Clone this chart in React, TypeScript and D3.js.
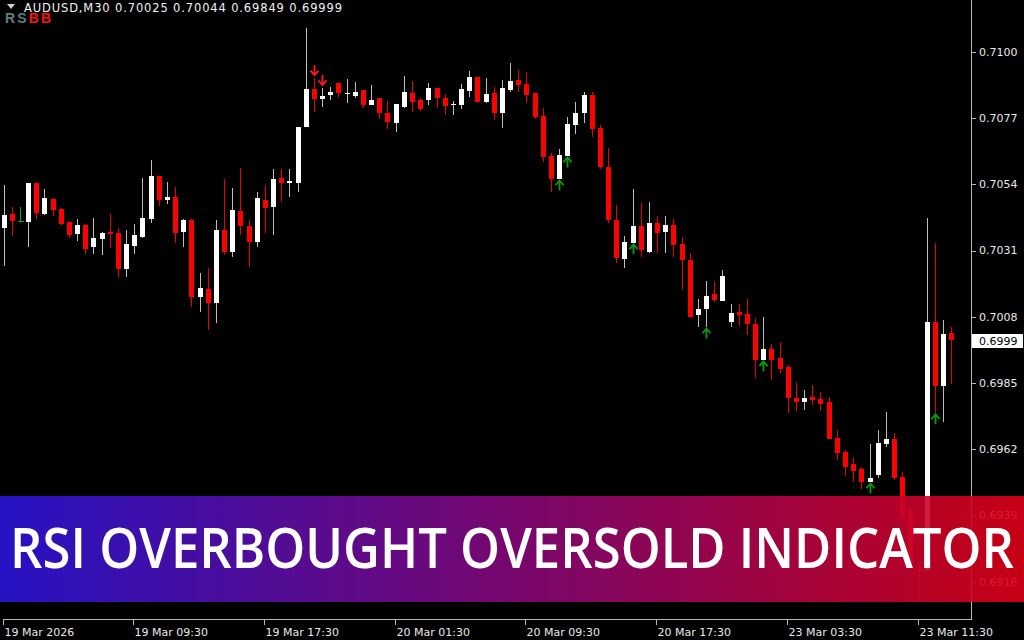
import * as d3 from 'd3'

// AUDUSD M30 (prices)
const opens = [
  0.70389, 0.70437, 0.70414, 0.7041, 0.70545, 0.70437, 0.70489, 0.70455, 0.7041, 0.70368,
  0.70399, 0.70323, 0.70352, 0.70375, 0.70371, 0.70247, 0.70326, 0.70358, 0.7042, 0.70569,
  0.70486, 0.70496, 0.70375, 0.70417, 0.70149, 0.70177, 0.70129, 0.70382, 0.70306, 0.70448,
  0.70396, 0.7034, 0.70486, 0.70462, 0.70562, 0.70545, 0.70545, 0.70739, 0.70871, 0.70837,
  0.7085, 0.70892, 0.70856, 0.70847, 0.70868, 0.70816, 0.7084, 0.70788, 0.70753, 0.70809,
  0.70857, 0.70833, 0.70833, 0.70875, 0.7084, 0.70818, 0.70816, 0.70864, 0.70913, 0.70826,
  0.70857, 0.70788, 0.70868, 0.70902, 0.70889, 0.70857, 0.70777, 0.70639, 0.70559, 0.70639,
  0.70746, 0.70788, 0.7085, 0.70736, 0.70601, 0.70417, 0.70281, 0.70337, 0.70396, 0.70306,
  0.70406, 0.70375, 0.70399, 0.70333, 0.70278, 0.70087, 0.70108, 0.7016, 0.70136, 0.70063,
  0.70097, 0.7009, 0.70056, 0.69931, 0.69969, 0.69938, 0.69907, 0.69798, 0.69785, 0.69802,
  0.69795, 0.69785, 0.6966, 0.69612, 0.6957, 0.69553, 0.69507, 0.69532, 0.69639, 0.69657,
  0.69525, 0.6941, 0.69205, 0.69201, 0.70063, 0.69841, 0.70025,
]
const highs = [
  0.70538, 0.70462, 0.70462, 0.70545, 0.70545, 0.70524, 0.70493, 0.70458, 0.70413, 0.7042,
  0.70403, 0.70423, 0.70375, 0.70437, 0.70389, 0.70382, 0.70403, 0.70562, 0.70625, 0.70569,
  0.70548, 0.70531, 0.7042, 0.7042, 0.70233, 0.7025, 0.70417, 0.70559, 0.70528, 0.70597,
  0.70417, 0.70514, 0.70538, 0.70594, 0.70594, 0.70594, 0.70739, 0.71083, 0.70909, 0.70875,
  0.70878, 0.70892, 0.70906, 0.70895, 0.70868, 0.70885, 0.7084, 0.7083, 0.70819, 0.70916,
  0.70899, 0.7084, 0.70892, 0.70875, 0.70854, 0.7083, 0.70889, 0.70935, 0.70913, 0.70909,
  0.70878, 0.70902, 0.70961, 0.70937, 0.7093, 0.70857, 0.70805, 0.70649, 0.70663, 0.70774,
  0.70826, 0.70861, 0.70861, 0.70746, 0.70666, 0.70469, 0.70361, 0.70524, 0.70476, 0.70479,
  0.7043, 0.7043, 0.7042, 0.70358, 0.70302, 0.70142, 0.70205, 0.70202, 0.70243, 0.70125,
  0.70125, 0.70142, 0.70077, 0.7008, 0.69986, 0.69993, 0.69914, 0.69855, 0.69827, 0.69845,
  0.6982, 0.69802, 0.69688, 0.69618, 0.69591, 0.6956, 0.69639, 0.69687, 0.6975, 0.69677,
  0.69542, 0.69417, 0.69226, 0.70424, 0.70337, 0.7007, 0.70044,
]
const lows = [
  0.70257, 0.70361, 0.7041, 0.70323, 0.7042, 0.70434, 0.7043, 0.70399, 0.70354, 0.70344,
  0.70299, 0.70299, 0.70296, 0.70319, 0.70219, 0.70219, 0.70299, 0.70354, 0.70406, 0.70465,
  0.70472, 0.70337, 0.70323, 0.70115, 0.70097, 0.70035, 0.70059, 0.70296, 0.70288, 0.70365,
  0.70254, 0.70323, 0.70371, 0.70365, 0.70479, 0.70496, 0.70514, 0.70739, 0.70791, 0.70809,
  0.70833, 0.7084, 0.70823, 0.7084, 0.70805, 0.70816, 0.70767, 0.70732, 0.70722, 0.70805,
  0.70791, 0.70795, 0.70816, 0.70805, 0.70781, 0.70781, 0.70802, 0.70844, 0.70823, 0.70823,
  0.70764, 0.70736, 0.70861, 0.70861, 0.70823, 0.70767, 0.70618, 0.70514, 0.70559, 0.70639,
  0.70715, 0.70753, 0.70705, 0.70594, 0.70406, 0.70267, 0.7025, 0.70337, 0.70288, 0.70302,
  0.70302, 0.70302, 0.70288, 0.70174, 0.70077, 0.70045, 0.70045, 0.70132, 0.70136, 0.70045,
  0.70049, 0.70018, 0.69868, 0.69931, 0.69861, 0.69887, 0.69747, 0.69754, 0.69757, 0.69775,
  0.69754, 0.69657, 0.69584, 0.69528, 0.69507, 0.69483, 0.69507, 0.69521, 0.69629, 0.69514,
  0.69376, 0.69201, 0.69098, 0.69197, 0.69747, 0.69717, 0.69849,
]
const closes = [
  0.70434, 0.70413, 0.70414, 0.70545, 0.70441, 0.70493, 0.70451, 0.70403, 0.70365, 0.70399,
  0.70316, 0.70354, 0.70371, 0.70368, 0.70247, 0.70333, 0.70365, 0.70424, 0.70569, 0.70486,
  0.70496, 0.70371, 0.70417, 0.70149, 0.70181, 0.70129, 0.70382, 0.70306, 0.70451, 0.70396,
  0.7034, 0.70493, 0.70458, 0.70559, 0.70545, 0.70552, 0.70739, 0.70871, 0.70837, 0.70847,
  0.70861, 0.70857, 0.70858, 0.70861, 0.70816, 0.70833, 0.70788, 0.70757, 0.70819, 0.70861,
  0.70826, 0.70802, 0.70875, 0.7084, 0.70812, 0.70819, 0.70871, 0.70913, 0.70826, 0.70854,
  0.70788, 0.70875, 0.70899, 0.70885, 0.7085, 0.70774, 0.70635, 0.70559, 0.70642, 0.7075,
  0.70788, 0.7085, 0.70732, 0.70601, 0.70417, 0.70285, 0.7034, 0.70396, 0.70312, 0.70406,
  0.70371, 0.70399, 0.7033, 0.70278, 0.7008, 0.70108, 0.70153, 0.70139, 0.70222, 0.70094,
  0.70087, 0.70056, 0.69931, 0.69969, 0.69931, 0.699, 0.69798, 0.69785, 0.69798, 0.69792,
  0.69778, 0.69657, 0.69608, 0.6956, 0.69546, 0.69507, 0.69521, 0.69643, 0.69657, 0.69521,
  0.69383, 0.69226, 0.69195, 0.70063, 0.69841, 0.70021, 0.69999,
]

// RSI signals (bar index)
const sellSignals = [38, 39]
const buySignals = [68, 69, 77, 86, 93, 106, 114]

const priceTicks = [0.71, 0.7077, 0.7054, 0.7031, 0.7008, 0.6985, 0.6962, 0.6939, 0.6916]
const timeTickBars = [0, 16, 32, 48, 64, 80, 96, 112]
const timeTickLabels = [
  '19 Mar 2026', '19 Mar 09:30', '19 Mar 17:30', '20 Mar 01:30',
  '20 Mar 09:30', '20 Mar 17:30', '23 Mar 03:30', '23 Mar 11:30',
]

const W = 1024
const H = 640
const frameRight = 971.5
const frameBottom = 619.5
const axisFont = '"DejaVu Sans", Tahoma, sans-serif'

// MT4 cuts the price to 4 digits on the scale, it doesn't round
const trunc4 = (p: number) => (Math.floor(p * 10000 + 1e-6) / 10000).toFixed(4)

export default function App() {
  const n = closes.length
  const x = d3.scaleLinear().domain([0, 116]).range([3.5, 951.2])
  const y = d3.scaleLinear().domain([0.6916, 0.71]).range([582, 52])
  const bodyW = 5
  const last = closes[n - 1]

  const candles = d3.range(n).map((i) => {
    const cx = Math.round(x(i)) + 0.5
    const o = opens[i]
    const c = closes[i]
    const doji = o === c
    const up = c > o
    const top = Math.round(y(Math.max(o, c)))
    const bot = Math.round(y(Math.min(o, c)))
    const body = doji ? '#00b000' : up ? '#ffffff' : '#ff0000'
    const wick = doji ? '#00b000' : up ? '#bdbdbd' : '#e60000'
    return (
      <g key={i}>
        <line x1={cx} x2={cx} y1={y(highs[i])} y2={y(lows[i])} stroke={wick} strokeWidth={1} />
        {doji ? (
          <line x1={cx - 3} x2={cx + 3} y1={top + 0.5} y2={top + 0.5} stroke={body} strokeWidth={1} />
        ) : (
          <rect x={cx - 0.5 - Math.floor(bodyW / 2)} y={top} width={bodyW} height={Math.max(1, bot - top)} fill={body} />
        )}
      </g>
    )
  })

  // wingdings style arrows
  const arrow = (cx: number, tipY: number, dir: 1 | -1, color: string, key: string) => {
    const len = 9
    const head = 4
    const d = `M${cx},${tipY} L${cx},${tipY + dir * len} M${cx - 3.5},${tipY + dir * head} L${cx},${tipY} L${cx + 3.5},${tipY + dir * head}`
    return <path key={key} d={d} stroke={color} strokeWidth={1.8} fill="none" strokeLinecap="square" />
  }

  return (
    <div style={{ position: 'fixed', left: 0, top: 0, width: W, height: H, background: '#000' }}>
      <svg width={W} height={H} style={{ display: 'block' }}>
        <defs>
          <linearGradient id="banner" x1="0" x2="1" y1="0" y2="0">
            <stop offset="0" stopColor="#2a14d8" />
            <stop offset="0.5" stopColor="#85087a" />
            <stop offset="1" stopColor="#dc0016" />
          </linearGradient>
        </defs>
        <rect width={W} height={H} fill="#000" />

        {/* candles */}
        <g shapeRendering="crispEdges">{candles}</g>

        {/* signals */}
        {sellSignals.map((i) => arrow(Math.round(x(i)) + 0.5, y(highs[i]) - 3, -1, '#ff1a1a', 's' + i))}
        {buySignals.map((i) => arrow(Math.round(x(i)) + 0.5, y(lows[i]) + 1.5, 1, '#0a9a0a', 'b' + i))}

        {/* frame */}
        <g shapeRendering="crispEdges" stroke="#b8b8b8" strokeWidth={1}>
          <line x1={frameRight} x2={frameRight} y1={0} y2={frameBottom} />
          <line x1={2.5} x2={frameRight} y1={frameBottom} y2={frameBottom} />
        </g>

        {/* price axis */}
        <g fontFamily={axisFont} fontSize={11} fill="#e8e8e8">
          {priceTicks.map((p) => (
            <g key={p}>
              <line x1={frameRight} x2={frameRight + 4} y1={Math.round(y(p)) + 0.5} y2={Math.round(y(p)) + 0.5} stroke="#b8b8b8" shapeRendering="crispEdges" />
              <text x={979} y={y(p)} dominantBaseline="central">{p.toFixed(4)}</text>
            </g>
          ))}
          <rect x={frameRight + 0.5} y={Math.round(y(last)) - 6} width={51} height={14} fill="#ffffff" />
          <text x={979} y={Math.round(y(last)) + 1} dominantBaseline="central" fill="#000">{trunc4(last)}</text>
        </g>

        {/* time axis */}
        <g fontFamily={axisFont} fontSize={11} fill="#e8e8e8">
          {timeTickBars.map((b, k) => {
            const tx = Math.round(x(b)) - 0.5
            return (
              <g key={b}>
                <line x1={tx} x2={tx} y1={frameBottom} y2={frameBottom + 5} stroke="#b8b8b8" shapeRendering="crispEdges" />
                <text x={tx + 1} y={636}>{timeTickLabels[k]}</text>
              </g>
            )
          })}
        </g>

        {/* header */}
        <path d="M7,4 L15,4 L11,9 Z" fill="#d0d0d0" />
        <text x={24} y={12} fontFamily={axisFont} fontSize={11.5} fill="#f0f0f0" textLength={318}>
          AUDUSD,M30  {opens[n - 1].toFixed(5)} {highs[n - 1].toFixed(5)} {lows[n - 1].toFixed(5)} {closes[n - 1].toFixed(5)}
        </text>
        <text x={5} y={23} fontFamily='"Liberation Sans", Arial, sans-serif' fontWeight="bold" fontSize={14} textLength={46}>
          <tspan fill="#5f7f7c">RS</tspan>
          <tspan fill="#ff1010">BB</tspan>
        </text>

        {/* banner */}
        <rect x={0} y={496} width={W} height={106} fill="url(#banner)" opacity={0.9} />
        <text
          x={10}
          y={568}
          fontFamily='"Open Sans", "Noto Sans", sans-serif'
          fontWeight={600}
          fontSize={56}
          fill="#ffffff"
          textLength={1004}
          lengthAdjust="spacingAndGlyphs"
        >
          RSI OVERBOUGHT OVERSOLD INDICATOR
        </text>
      </svg>
    </div>
  )
}
